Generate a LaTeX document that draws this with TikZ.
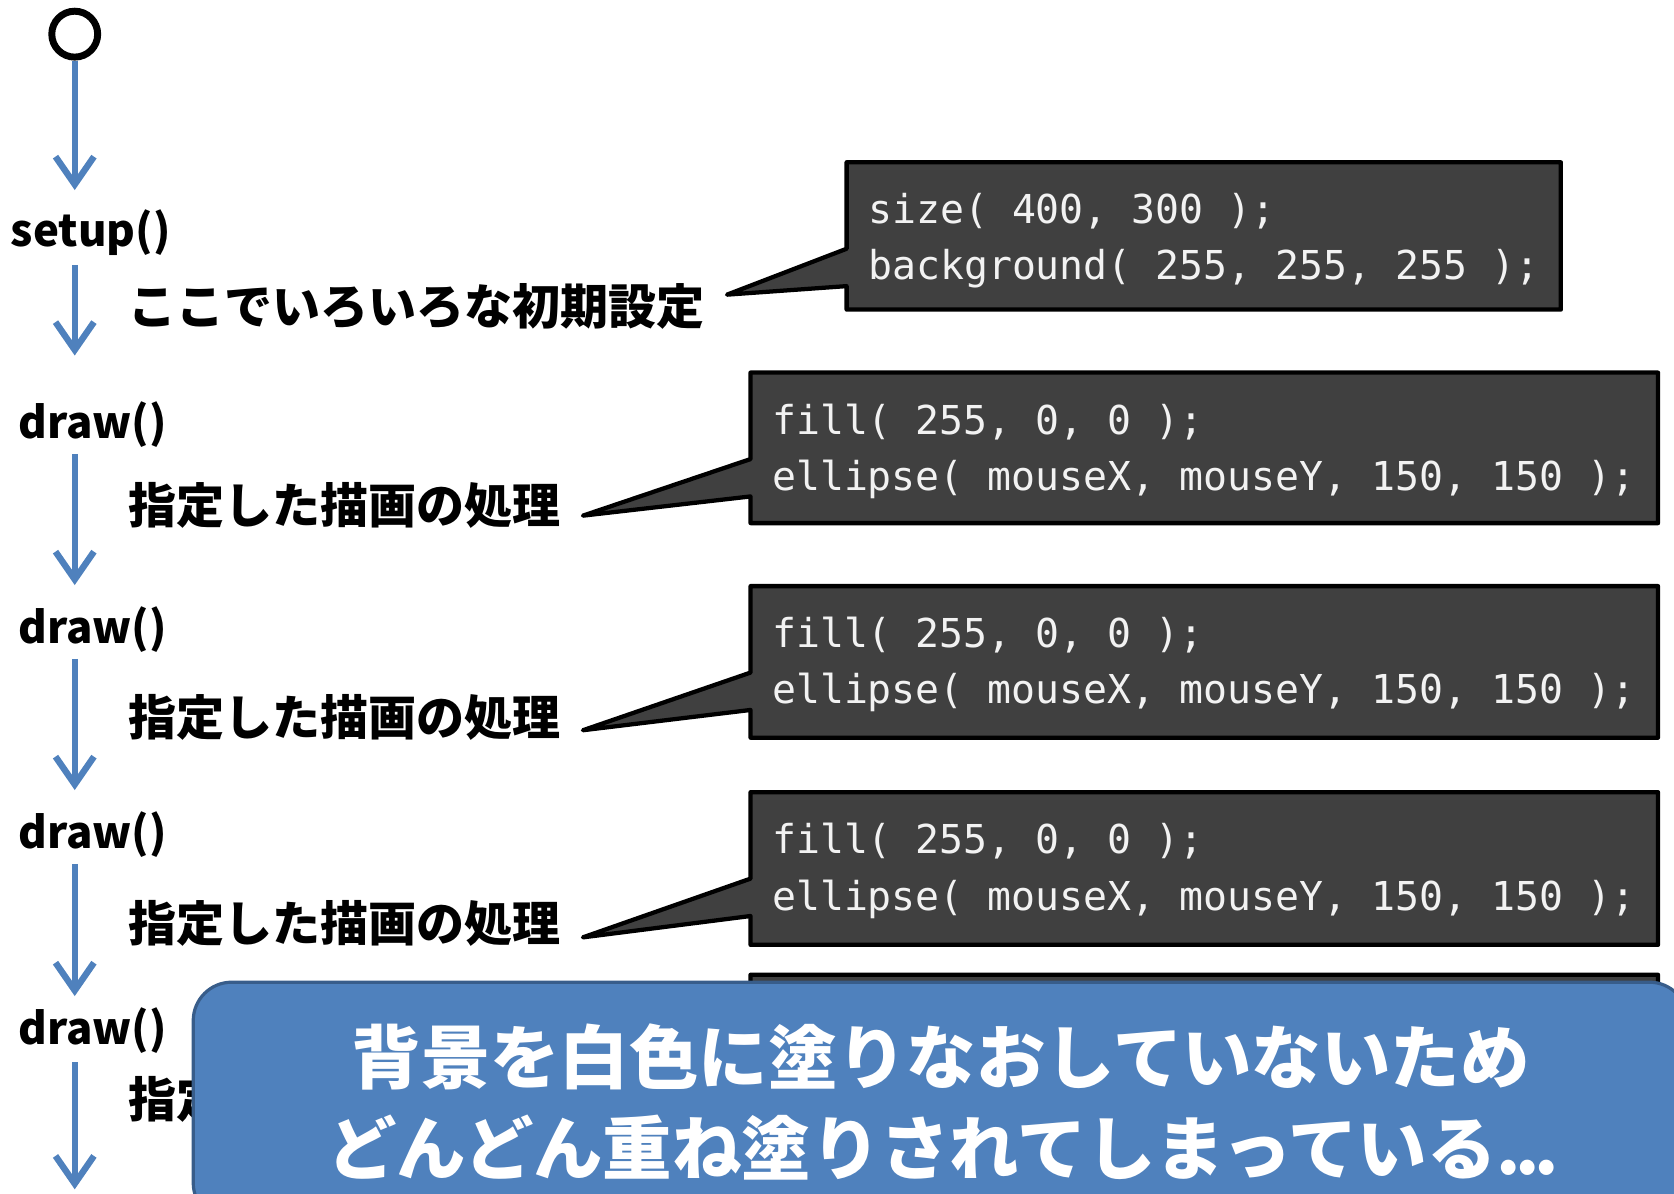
\documentclass[tikz,border=0pt]{standalone}
\usepackage{fontspec}
\setmonofont{DejaVu Sans Mono}
\newfontfamily\jpfont{Noto Sans CJK JP}
\usetikzlibrary{arrows.meta}
\definecolor{flowblue}{HTML}{4F81BD}
\definecolor{noteedge}{HTML}{385D8A}
\definecolor{codegray}{HTML}{404040}
\definecolor{codetext}{HTML}{F2F2F2}
\tikzset{
	flow/.style={draw=flowblue, line width=6pt, -{Straight Barb[length=26pt, width=36pt]}},
	fn/.style={font=\jpfont\bfseries\fontsize{41}{46}\selectfont, inner sep=0pt, anchor=west},
	jplabel/.style={font=\jpfont\bfseries\fontsize{45}{50}\selectfont, inner sep=0pt, anchor=west},
	codebox/.style={draw=black, fill=codegray, line width=4pt, line join=round},
	code/.style={font=\ttfamily\fontsize{37.3}{40}\selectfont, text=codetext, inner sep=0pt, anchor=west},
	note/.style={draw=noteedge, fill=flowblue, line width=3pt, rounded corners=36pt, text=white, align=center, font=\jpfont\bfseries\fontsize{65}{85}\selectfont}
}
% name, left, right, top, bottom, tip x, tip y, first line, second line
\newcommand{\codecallout}[9]{
	\draw[codebox] (#6,#7) -- (#2,#4+81) -- (#2,#4) -- (#3,#4) -- (#3,#5) -- (#2,#5) -- (#2,#4+116) -- cycle;
	\node[code] (#1a) at (#2+20,#4+46) {#8};
	\node[code] (#1b) at (#2+20,#4+100) {#9};
}

\begin{document}
\begin{tikzpicture}[x=1pt, y=-1pt]
		%%%%% START %%%%%
		\useasboundingbox (0,0) rectangle (1568,1118);
		\clip (0,0) rectangle (1568,1118);
		
		\node[draw, circle, line width=6.5pt, minimum size=43pt, inner sep=0pt] (start) at (70,32) {};
		
		\node[fn, minimum height=60pt] (setup) at (10,218) {setup()};
		\node[fn, minimum height=54pt] (draw1) at (17,398) {draw()};
		\node[fn, minimum height=54pt] (draw2) at (17,590) {draw()};
		\node[fn, minimum height=54pt] (draw3) at (17,782) {draw()};
		\node[fn, minimum height=60pt] (draw4) at (17,965) {draw()};
		
		\coordinate (t1) at (70,178);
		\coordinate (t2) at (70,333);
		\coordinate (t3) at (70,548);
		\coordinate (t4) at (70,740);
		\coordinate (t5) at (70,933);
		\coordinate (t6) at (70,1114);
		
		\draw[flow] (start) -- (t1);
		\draw[flow] (setup.south -| t2) -- (t2);
		\draw[flow] (draw1.south -| t3) -- (t3);
		\draw[flow] (draw2.south -| t4) -- (t4);
		\draw[flow] (draw3.south -| t5) -- (t5);
		\draw[flow] (draw4.south -| t6) -- (t6);
		
		\node[jplabel] (init) at (120,287) {ここでいろいろな初期設定};
		\node[jplabel] (proc1) at (120,473) {指定した描画の処理};
		\node[jplabel] (proc2) at (120,672) {指定した描画の処理};
		\node[jplabel] (proc3) at (120,865) {指定した描画の処理};
		\node[jplabel] (proc4) at (120,1030) {指定した描画の処理};
		
		\codecallout{setupcode}{793}{1462}{152}{290}{681}{276}{size( 400, 300 );}{background( 255, 255, 255 );}
		\codecallout{drawcodeA}{703}{1553}{349}{490}{546}{483}{fill( 255, 0, 0 );}{ellipse( mouseX, mouseY, 150, 150 );}
		\codecallout{drawcodeB}{703}{1553}{549}{691}{546}{684}{fill( 255, 0, 0 );}{ellipse( mouseX, mouseY, 150, 150 );}
		\codecallout{drawcodeC}{703}{1553}{742}{885}{546}{878}{fill( 255, 0, 0 );}{ellipse( mouseX, mouseY, 150, 150 );}
		% last one is hidden under the note
		\draw[codebox] (546,1042) -- (703,994) -- (703,913) -- (1553,913) -- (1553,1056) -- (703,1056) -- (703,1029) -- cycle;
		
		\node[note, minimum width=1400pt, minimum height=224pt] (warn) at (881,1032) {背景を白色に塗りなおしていないため\\どんどん重ね塗りされてしまっている.\kern-5pt.\kern-5pt.\kern-5pt};
		
		%%%%% END %%%%%
\end{tikzpicture}
\end{document}
